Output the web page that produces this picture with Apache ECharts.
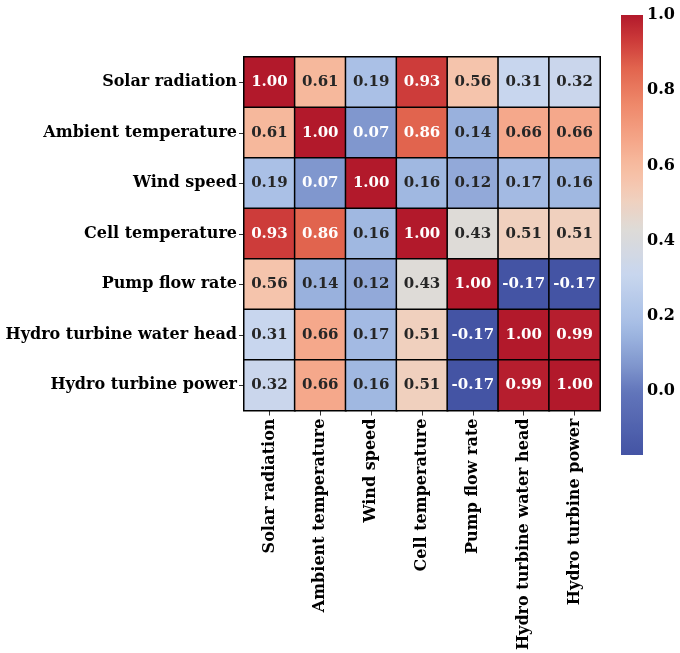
<!DOCTYPE html>
<html><head><meta charset="utf-8">
<script src="https://cdn.jsdelivr.net/npm/echarts@6/dist/echarts.min.js"></script>
<style>html,body{margin:0;padding:0;background:#fff}#c{width:680px;height:653px}</style>
</head><body><div id="c"></div>
<script>
const categories = ["Solar radiation","Ambient temperature","Wind speed","Cell temperature","Pump flow rate","Hydro turbine water head","Hydro turbine power"];
const row0 = [1.00,0.61,0.19,0.93,0.56,0.31,0.32];
const row1 = [0.61,1.00,0.07,0.86,0.14,0.66,0.66];
const row2 = [0.19,0.07,1.00,0.16,0.12,0.17,0.16];
const row3 = [0.93,0.86,0.16,1.00,0.43,0.51,0.51];
const row4 = [0.56,0.14,0.12,0.43,1.00,-0.17,-0.17];
const row5 = [0.31,0.66,0.17,0.51,-0.17,1.00,0.99];
const row6 = [0.32,0.66,0.16,0.51,-0.17,0.99,1.00];
const colorbarTicks = [0.0,0.2,0.4,0.6,0.8,1.0];
const vmin = -0.17, vmax = 1.0;

const rows = [row0,row1,row2,row3,row4,row5,row6];
const data = [];
rows.forEach((r,i)=>r.forEach((v,j)=>data.push([j,i,v])));

// palette stops (position 0..1 along the colour scale, rgb) - muted coolwarm as seen in the reference
const paletteStops = [
  [0.000,[68,84,164]],[0.145,[98,118,187]],[0.205,[128,151,206]],[0.282,[160,184,226]],
  [0.308,[170,192,230]],[0.410,[200,214,238]],[0.513,[222,219,215]],[0.581,[240,208,190]],
  [0.624,[246,196,172]],[0.667,[246,184,156]],[0.710,[245,168,139]],[0.800,[238,135,105]],
  [0.880,[225,100,78]],[0.940,[205,60,58]],[1.000,[178,25,43]]
];
function palAt(t){
  for(let k=1;k<paletteStops.length;k++){
    const a=paletteStops[k-1], b=paletteStops[k];
    if(t<=b[0]){const f=(t-a[0])/(b[0]-a[0]);return 'rgb('+a[1].map((x,i)=>Math.round(x+(b[1][i]-x)*f)).join(',')+')';}
  }
  return 'rgb('+paletteStops[paletteStops.length-1][1].join(',')+')';
}
const N=101, colors=[];
for(let i=0;i<N;i++) colors.push(palAt(i/(N-1)));

const font = '"DejaVu Serif", serif';
const chart = echarts.init(document.getElementById('c'), null, {renderer:'canvas'});
chart.setOption({
  animation:false,
  grid:[
    {left:244, top:57, width:356, height:356},
    {left:621, top:15, width:22, height:440}
  ],
  xAxis:[
    {type:'category', data:categories, gridIndex:0, position:'bottom',
     axisLine:{show:false}, splitLine:{show:false},
     axisTick:{show:true, alignWithLabel:true, length:5, lineStyle:{color:'#333', width:1}},
     axisLabel:{rotate:90, interval:0, fontFamily:font, fontWeight:'bold', fontSize:16, color:'#000', margin:8}},
    {type:'value', gridIndex:1, show:false, min:0, max:1}
  ],
  yAxis:[
    {type:'category', data:categories, gridIndex:0, inverse:true,
     axisLine:{show:false}, splitLine:{show:false},
     axisTick:{show:true, alignWithLabel:true, length:5, lineStyle:{color:'#333', width:1}},
     axisLabel:{interval:0, fontFamily:font, fontWeight:'bold', fontSize:16, color:'#000', margin:7}},
    {type:'value', gridIndex:1, position:'right', min:vmin, max:vmax,
     axisLine:{show:false}, splitLine:{show:false},
     axisTick:{show:true, length:5, customValues:colorbarTicks, lineStyle:{color:'#333'}},
     axisLabel:{customValues:colorbarTicks, formatter:v=>v.toFixed(1), fontFamily:font, fontWeight:'bold', fontSize:16, color:'#000', margin:4}}
  ],
  visualMap:{
    type:'continuous', min:vmin, max:vmax, show:false, seriesIndex:0,
    inRange:{color:colors}
  },
  series:[{
    type:'heatmap', xAxisIndex:0, yAxisIndex:0,
    data:data.map(d=>({value:d, label:{color:(d[2]>=0.8||d[2]<=0.1)?'#ffffff':'#262626'}})),
    itemStyle:{borderColor:'#000', borderWidth:1.5},
    label:{show:true, fontFamily:font, fontWeight:'bold', fontSize:15,
      formatter:p=>p.value[2].toFixed(2)},
    emphasis:{disabled:true}
  },{
    type:'custom', xAxisIndex:1, yAxisIndex:1, silent:true,
    data:[[0, vmax]],
    renderItem:(params, api)=>{
      const cs = params.coordSys;
      const top = api.coord([0, vmax])[1], bot = api.coord([0, vmin])[1];
      return {type:'rect', shape:{x:cs.x, y:top, width:cs.width, height:bot-top},
        style:{fill:new echarts.graphic.LinearGradient(0,1,0,0, colors.map((c,i)=>({offset:i/(N-1), color:c})))}};
    }
  }]
});
</script>
</body></html>
